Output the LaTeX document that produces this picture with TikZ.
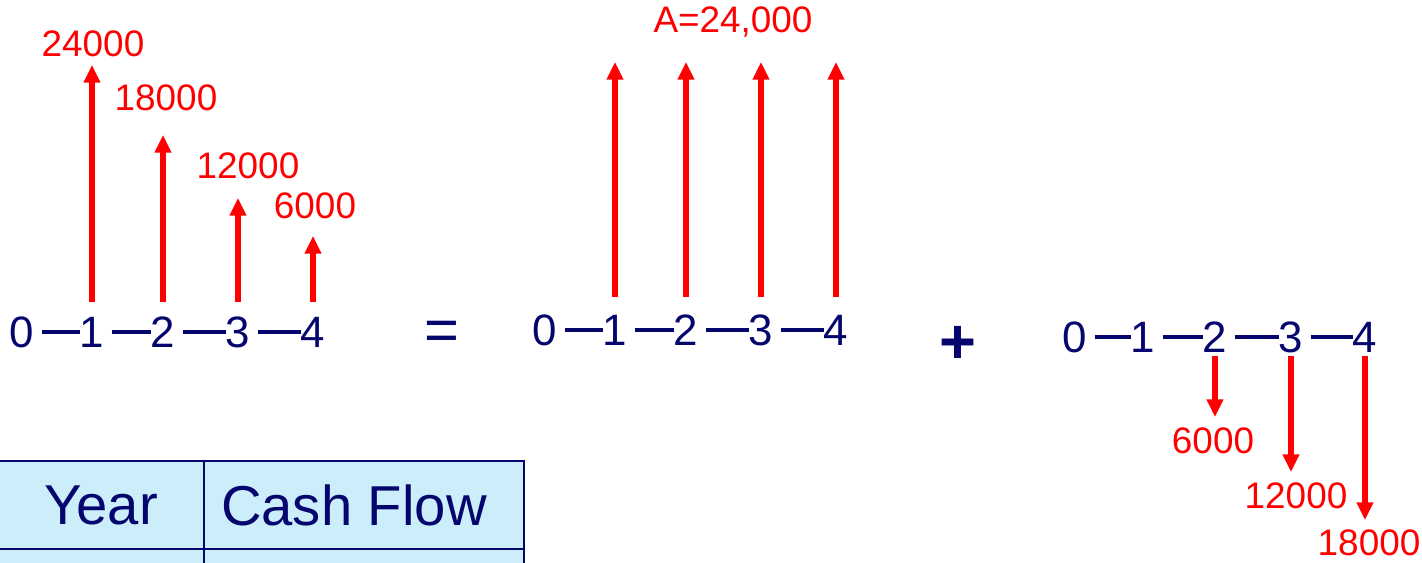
\documentclass[tikz,border=0pt]{standalone}
\usepackage{fontspec}
\setmainfont{Liberation Sans}
\usetikzlibrary{arrows.meta,positioning}
\definecolor{navy}{RGB}{5,5,110}
\definecolor{cashred}{RGB}{255,0,0}
\definecolor{cellblue}{RGB}{204,238,250}

\tikzset{
  tick/.style={text=navy, font=\fontsize{25}{25}\selectfont, inner sep=0pt},
  seg/.style={navy, line width=1.9pt, shorten <=4pt, shorten >=-0.5pt},
  flow/.style={cashred, line width=3.4pt, -{Triangle[length=10pt,width=9pt]}},
  amount/.style={text=cashred, font=\fontsize{21}{21}\selectfont, inner sep=0pt},
  sign/.style={text=navy, font=\bfseries\fontsize{36}{36}\selectfont, inner sep=0pt},
  cell/.style={draw=navy, line width=1.4pt, fill=cellblue, outer sep=0pt,
    minimum height=1.76cm, text=navy, font=\fontsize{32}{32}\selectfont}
}

\begin{document}
\begin{tikzpicture}[x=0.02cm, y=-0.02cm]
  \useasboundingbox (0,0) rectangle (1422,562);

  % Left: decreasing cash flows
  \foreach \x [count=\i from 0] in {22,92,163,238,313}
    \node[tick] (l\i) at (\x,332) {\i};
  \foreach \i [count=\j] in {0,...,3}
    \draw[seg] (l\i.east) -- (l\j.west);
  \foreach \i/\t in {1/65,2/135,3/198,4/236}
    \draw[flow, shorten <=8pt] (l\i.north) -- (l\i.north |- 0,\t);
  \node[amount] (la1) at (93,44) {24000};
  \node[amount] (la2) at (166,98) {18000};
  \node[amount] (la3) at (248,166) {12000};
  \node[amount] (la4) at (315,206) {6000};

  \node[sign, font=\fontsize{34}{34}\selectfont] (eq) at (442,336) {=};

  % Middle: uniform series
  \foreach \x [count=\i from 0] in {545,615,686,761,836}
    \node[tick] (m\i) at (\x,330) {\i};
  \foreach \i [count=\j] in {0,...,3}
    \draw[seg] (m\i.east) -- (m\j.west);
  \foreach \i in {1,...,4}
    \draw[flow, shorten <=10pt] (m\i.north) -- (m\i.north |- 0,62);
  \node[amount] (ma) at (733,22) {A=24,000};

  \node[sign] (plus) at (958,345) {+};

  % Right: gradient series (outflows)
  \foreach \x [count=\i from 0] in {1075,1143,1215,1291,1365}
    \node[tick] (r\i) at (\x,337) {\i};
  \foreach \i [count=\j] in {0,...,3}
    \draw[seg] (r\i.east) -- (r\j.west);
  \foreach \i/\t in {2/417,3/472,4/520}
    \draw[flow, shorten <=2pt] (r\i.south) -- (r\i.south |- 0,\t);
  \node[amount] (ra2) at (1213,441) {6000};
  \node[amount] (ra3) at (1296,496) {12000};
  \node[amount] (ra4) at (1369,543) {18000};

  % Table
  \node[cell, minimum width=4.12cm, anchor=north west] (yr) at (-2,461) {Year};
  \node[cell, minimum width=6.4cm, right=0pt of yr] (cf) {\hspace*{-0.4cm}Cash Flow};
  \node[cell, minimum width=4.12cm, below=0pt of yr] (yr2) {};
  \node[cell, minimum width=6.4cm, below=0pt of cf] (cf2) {};
\end{tikzpicture}
\end{document}
